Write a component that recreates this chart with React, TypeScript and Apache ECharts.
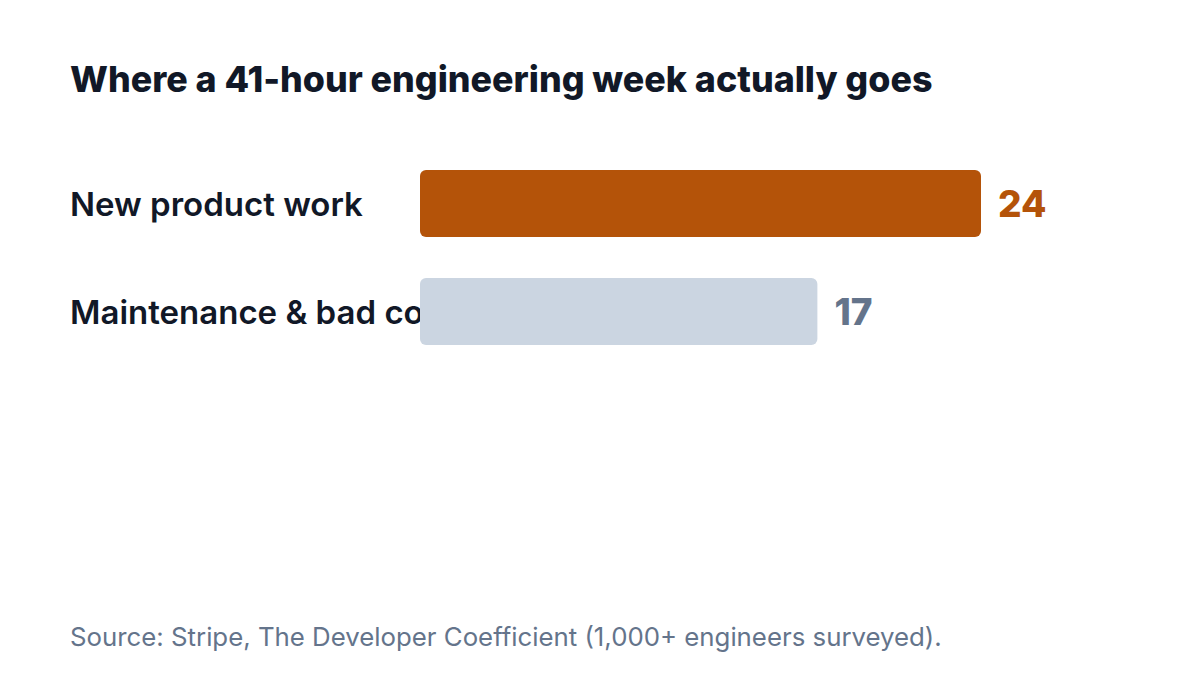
import { useEffect, useRef } from "react";
import * as echarts from "echarts";

const categories = ["New product work", "Maintenance & bad code"];
const hours = [24, 17];
const barColors = ["#b45309", "#cbd5e1"];
const labelColors = ["#b45309", "#64748b"];

const title = "Where a 41-hour engineering week actually goes";
const source = "Source: Stripe, The Developer Coefficient (1,000+ engineers surveyed).";

const FONT = "Inter, 'Noto Sans', sans-serif";

export default function App() {
  const chartRef = useRef<HTMLDivElement>(null);

  useEffect(() => {
    if (!chartRef.current) return;
    const chart = echarts.init(chartRef.current, null, { renderer: "svg" });

    chart.setOption({
      animation: false,
      backgroundColor: "#ffffff",
      textStyle: { fontFamily: FONT },
      title: {
        text: title,
        left: 70,
        top: 61,
        padding: 0,
        textStyle: {
          fontFamily: FONT,
          fontSize: 35.8,
          fontWeight: 800,
          color: "#111827",
        },
      },
      graphic: [
        {
          type: "text",
          left: 70,
          top: 623,
          style: {
            text: source,
            fontFamily: FONT,
            fontSize: 25.8,
            fill: "#64748b",
          },
        },
      ],
      grid: {
        left: 420,
        right: 219,
        top: 149.5,
        height: 216,
        containLabel: false,
      },
      xAxis: {
        type: "value",
        min: 0,
        max: 24,
        show: false,
      },
      yAxis: {
        type: "category",
        inverse: true,
        data: categories,
        axisLine: { show: false },
        axisTick: { show: false },
        splitLine: { show: false },
        axisLabel: {
          align: "left",
          margin: 350,
          fontFamily: FONT,
          fontSize: 33,
          fontWeight: 600,
          color: "#111827",
        },
      },
      series: [
        {
          type: "bar",
          barWidth: 67,
          data: hours.map((v, i) => ({
            value: v,
            itemStyle: { color: barColors[i], borderRadius: 6 },
            label: { color: labelColors[i] },
          })),
          label: {
            show: true,
            position: "right",
            distance: 17,
            fontFamily: FONT,
            fontSize: 37,
            fontWeight: 800,
          },
        },
      ],
    });

    return () => {
      chart.dispose();
    };
  }, []);

  return (
    <div
      ref={chartRef}
      style={{ position: "fixed", left: 0, top: 0, width: 1200, height: 675 }}
    />
  );
}
